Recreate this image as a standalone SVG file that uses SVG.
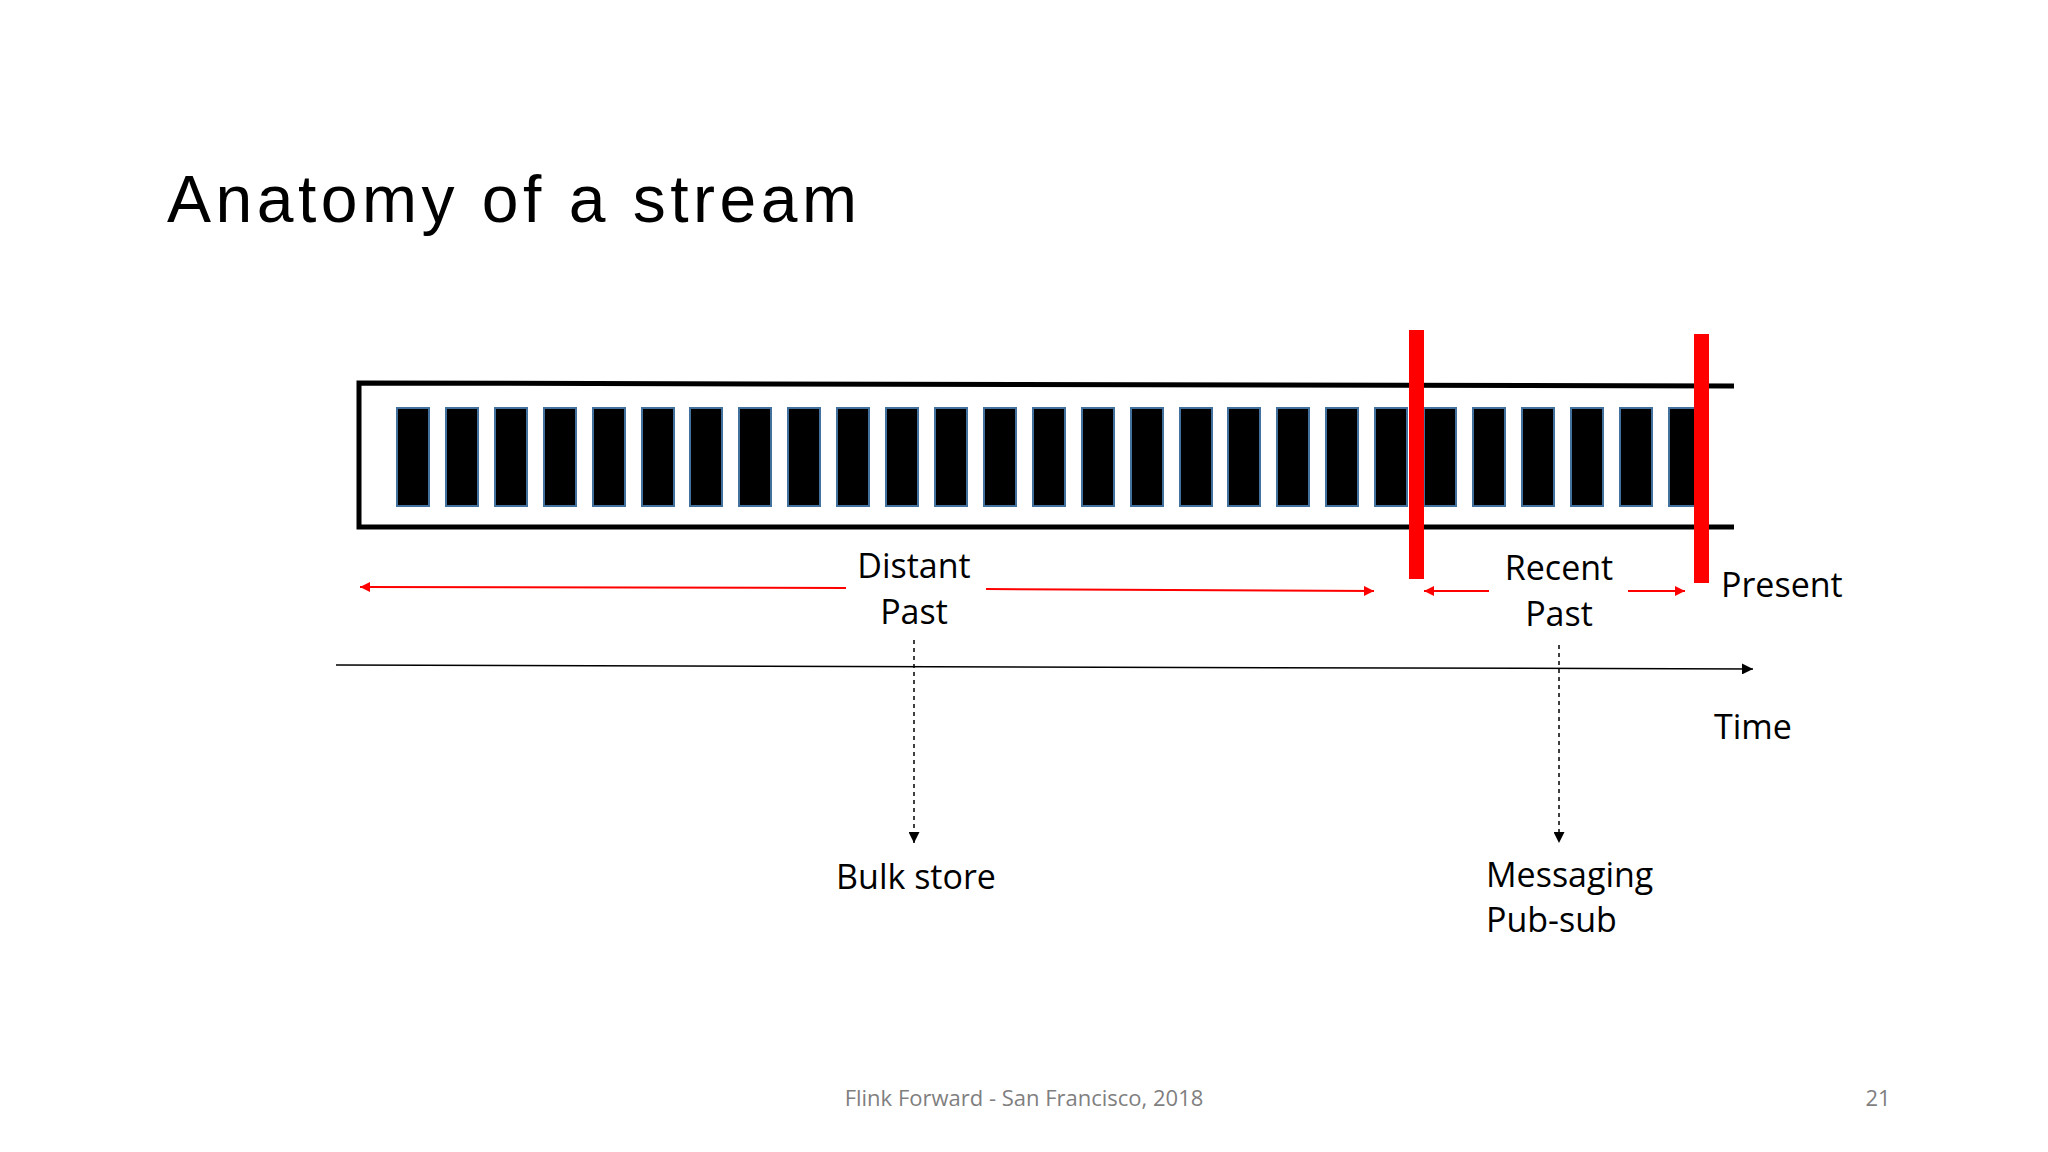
<svg xmlns="http://www.w3.org/2000/svg" width="2048" height="1152" viewBox="0 0 2048 1152">
<defs>
<style>
.t{font-family:"Open Sans","Liberation Sans",sans-serif;font-size:34px;fill:#000}
.bar{fill:#000;stroke:#41719c;stroke-width:2}
.red{stroke:#f00;stroke-width:2;fill:none}
.dot{stroke:#000;stroke-width:1.5;stroke-dasharray:4 4;fill:none}
</style>
<marker id="ar" viewBox="0 0 10 10" refX="10" refY="5" markerWidth="10" markerHeight="10" markerUnits="userSpaceOnUse" orient="auto-start-reverse"><path d="M0,0L10,5L0,10z" fill="#f00"/></marker>
<marker id="ab" viewBox="0 0 10 10" refX="10" refY="5" markerWidth="11" markerHeight="11" markerUnits="userSpaceOnUse" orient="auto"><path d="M0,0L10,5L0,10z" fill="#000"/></marker>
</defs>
<rect width="2048" height="1152" fill="#fff"/>
<text x="167" y="222" font-family="'Liberation Sans',sans-serif" font-size="66" fill="#000" textLength="690" lengthAdjust="spacing">Anatomy of a stream</text>
<g id="stream">
<path d="M1734,386L359,383L359,527L1734,527" fill="none" stroke="#000" stroke-width="5"/>
<g id="events">
<rect class="bar" x="397" y="408" width="32" height="98"/><rect class="bar" x="446" y="408" width="32" height="98"/><rect class="bar" x="495" y="408" width="32" height="98"/><rect class="bar" x="544" y="408" width="32" height="98"/><rect class="bar" x="593" y="408" width="32" height="98"/><rect class="bar" x="642" y="408" width="32" height="98"/><rect class="bar" x="690" y="408" width="32" height="98"/><rect class="bar" x="739" y="408" width="32" height="98"/><rect class="bar" x="788" y="408" width="32" height="98"/><rect class="bar" x="837" y="408" width="32" height="98"/><rect class="bar" x="886" y="408" width="32" height="98"/><rect class="bar" x="935" y="408" width="32" height="98"/><rect class="bar" x="984" y="408" width="32" height="98"/><rect class="bar" x="1033" y="408" width="32" height="98"/><rect class="bar" x="1082" y="408" width="32" height="98"/><rect class="bar" x="1131" y="408" width="32" height="98"/><rect class="bar" x="1180" y="408" width="32" height="98"/><rect class="bar" x="1228" y="408" width="32" height="98"/><rect class="bar" x="1277" y="408" width="32" height="98"/><rect class="bar" x="1326" y="408" width="32" height="98"/><rect class="bar" x="1375" y="408" width="32" height="98"/><rect class="bar" x="1424" y="408" width="32" height="98"/><rect class="bar" x="1473" y="408" width="32" height="98"/><rect class="bar" x="1522" y="408" width="32" height="98"/><rect class="bar" x="1571" y="408" width="32" height="98"/><rect class="bar" x="1620" y="408" width="32" height="98"/><rect class="bar" x="1669" y="408" width="32" height="98"/>
</g>
<rect x="1409" y="330" width="15" height="249" fill="#f00"/>
<rect x="1694" y="334" width="15" height="249" fill="#f00"/>
</g>
<g id="connectors">
<line class="red" x1="846" y1="588" x2="360" y2="587" marker-end="url(#ar)"/>
<line class="red" x1="986" y1="589" x2="1374" y2="591" marker-end="url(#ar)"/>
<line class="red" x1="1489" y1="591" x2="1424" y2="591" marker-end="url(#ar)"/>
<line class="red" x1="1628" y1="591" x2="1685" y2="591" marker-end="url(#ar)"/>
<line x1="336" y1="665" x2="1753" y2="669" stroke="#000" stroke-width="1.5" marker-end="url(#ab)"/>
<line class="dot" x1="914" y1="640" x2="914" y2="843" marker-end="url(#ab)"/>
<line class="dot" x1="1559" y1="645" x2="1559" y2="843" marker-end="url(#ab)"/>
</g>
<g id="labels">
<text class="t" x="914" y="578" text-anchor="middle">Distant</text>
<text class="t" x="914" y="624" text-anchor="middle">Past</text>
<text class="t" x="1559" y="580" text-anchor="middle">Recent</text>
<text class="t" x="1559" y="626" text-anchor="middle">Past</text>
<text class="t" x="1721" y="597">Present</text>
<text class="t" x="1753" y="739" text-anchor="middle">Time</text>
<text class="t" x="916" y="889" text-anchor="middle">Bulk store</text>
<text class="t" x="1486" y="887">Messaging</text>
<text class="t" x="1486" y="932">Pub-sub</text>
</g>
<text x="1024" y="1106" text-anchor="middle" font-family="'Open Sans','Liberation Sans',sans-serif" font-size="22" fill="#7f7f7f">Flink Forward - San Francisco, 2018</text>
<text x="1878" y="1106" text-anchor="middle" font-family="'Open Sans','Liberation Sans',sans-serif" font-size="22" fill="#7f7f7f">21</text>
</svg>
